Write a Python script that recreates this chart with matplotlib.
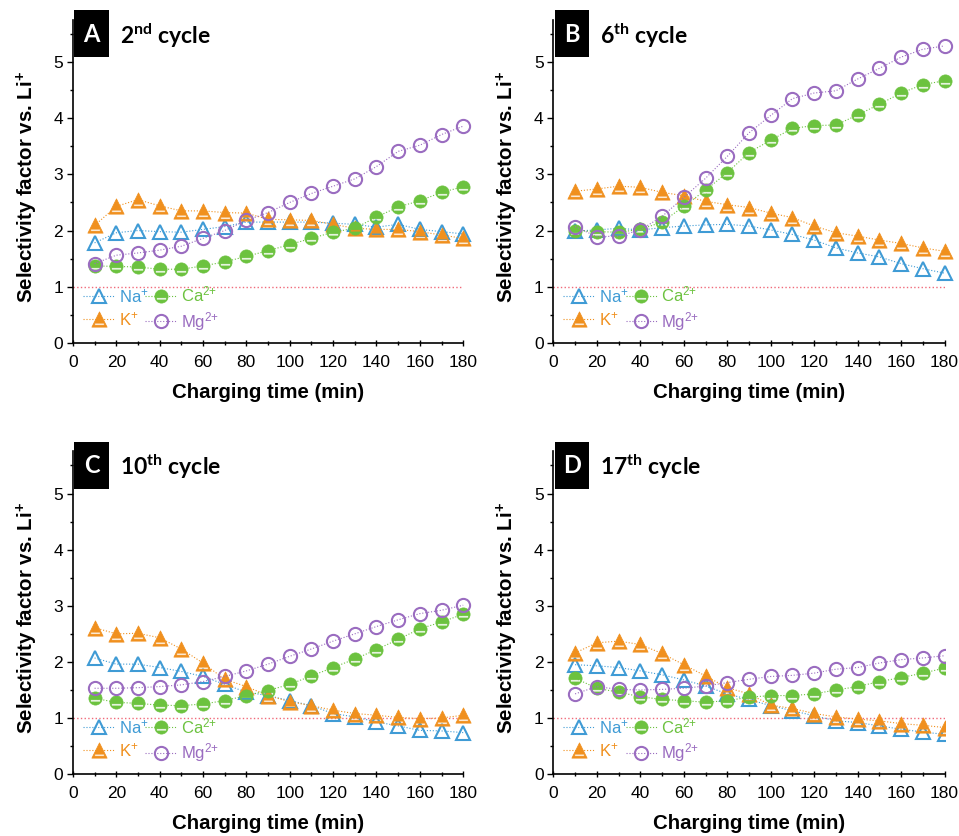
import numpy as np
import matplotlib
matplotlib.use('Agg')
import matplotlib.pyplot as plt
from matplotlib.path import Path
from matplotlib.patches import Rectangle

plt.rcParams['font.family'] = ['Liberation Sans', 'DejaVu Sans']
plt.rcParams['mathtext.fontset'] = 'custom'
plt.rcParams['mathtext.rm'] = 'Liberation Sans'
plt.rcParams['mathtext.bf'] = 'Lato:bold'
plt.rcParams['mathtext.default'] = 'regular'

# charging time (min)
time = [10, 20, 30, 40, 50, 60, 70, 80, 90, 100, 110, 120, 130, 140, 150, 160, 170, 180]

# panel A, 2nd cycle
na_a = [1.78, 1.96, 2.00, 1.98, 1.97, 2.02, 2.07, 2.15, 2.15, 2.15, 2.15, 2.13, 2.11, 2.06, 2.11, 2.02, 1.98, 1.94]
k_a = [2.09, 2.43, 2.55, 2.44, 2.35, 2.35, 2.32, 2.31, 2.20, 2.19, 2.18, 2.11, 2.04, 2.02, 2.02, 1.98, 1.92, 1.86]
ca_a = [1.37, 1.36, 1.35, 1.31, 1.31, 1.37, 1.44, 1.54, 1.64, 1.75, 1.86, 1.97, 2.04, 2.24, 2.42, 2.53, 2.68, 2.78]
mg_a = [1.41, 1.56, 1.60, 1.65, 1.72, 1.86, 2.00, 2.18, 2.32, 2.50, 2.66, 2.79, 2.92, 3.14, 3.41, 3.52, 3.71, 3.86]

# panel B, 6th cycle
na_b = [1.99, 2.01, 2.04, 2.01, 2.05, 2.08, 2.10, 2.11, 2.08, 2.01, 1.93, 1.83, 1.69, 1.60, 1.53, 1.41, 1.32, 1.24]
k_b = [2.70, 2.74, 2.79, 2.77, 2.68, 2.62, 2.52, 2.46, 2.41, 2.31, 2.23, 2.08, 1.96, 1.90, 1.83, 1.77, 1.69, 1.63]
ca_b = [2.00, 1.98, 1.97, 2.02, 2.15, 2.43, 2.72, 3.03, 3.39, 3.61, 3.82, 3.87, 3.88, 4.06, 4.25, 4.45, 4.60, 4.67]
mg_b = [2.07, 1.89, 1.90, 2.01, 2.25, 2.59, 2.93, 3.32, 3.74, 4.05, 4.35, 4.45, 4.49, 4.70, 4.89, 5.09, 5.23, 5.29]

# panel C, 10th cycle
na_c = [2.07, 1.96, 1.96, 1.90, 1.83, 1.74, 1.60, 1.46, 1.40, 1.31, 1.22, 1.08, 1.02, 0.93, 0.86, 0.78, 0.77, 0.74]
k_c = [2.61, 2.50, 2.51, 2.43, 2.23, 1.98, 1.69, 1.56, 1.40, 1.29, 1.22, 1.14, 1.08, 1.05, 1.01, 0.99, 1.00, 1.05]
ca_c = [1.35, 1.28, 1.26, 1.23, 1.22, 1.25, 1.31, 1.40, 1.49, 1.60, 1.75, 1.90, 2.05, 2.22, 2.40, 2.59, 2.71, 2.85]
mg_c = [1.53, 1.53, 1.54, 1.56, 1.59, 1.65, 1.74, 1.84, 1.96, 2.10, 2.23, 2.37, 2.50, 2.63, 2.75, 2.86, 2.92, 3.01]

# panel D, 17th cycle
na_d = [1.95, 1.93, 1.90, 1.84, 1.77, 1.68, 1.57, 1.43, 1.33, 1.22, 1.13, 1.04, 0.95, 0.92, 0.86, 0.80, 0.75, 0.71]
k_d = [2.16, 2.34, 2.37, 2.31, 2.15, 1.95, 1.75, 1.54, 1.43, 1.23, 1.17, 1.08, 1.02, 0.98, 0.95, 0.90, 0.87, 0.83]
ca_d = [1.71, 1.53, 1.46, 1.38, 1.33, 1.31, 1.28, 1.31, 1.37, 1.40, 1.40, 1.43, 1.50, 1.56, 1.65, 1.72, 1.80, 1.89]
mg_d = [1.43, 1.56, 1.51, 1.50, 1.51, 1.53, 1.57, 1.63, 1.69, 1.74, 1.76, 1.80, 1.87, 1.90, 1.98, 2.04, 2.07, 2.11]

letters = ['A', 'B', 'C', 'D']
cycles = ['2$^{\\mathbf{nd}}$ cycle', '6$^{\\mathbf{th}}$ cycle',
          '10$^{\\mathbf{th}}$ cycle', '17$^{\\mathbf{th}}$ cycle']
panels = [(na_a, k_a, ca_a, mg_a), (na_b, k_b, ca_b, mg_b),
          (na_c, k_c, ca_c, mg_c), (na_d, k_d, ca_d, mg_d)]
ions = ['Na$^{+}$', 'K$^{+}$', 'Ca$^{2{+}}$', 'Mg$^{2{+}}$']
colors = ['#3f9bd5', '#f0901e', '#6cc23f', '#9a6cc0']


# markers with a white slit (half-filled look of the original)
def slit_marker(outer, y0, y1, half_w):
    hole = Path([(-half_w, y1), (half_w, y1), (half_w, y0), (-half_w, y0), (-half_w, y1)],
                [Path.MOVETO, Path.LINETO, Path.LINETO, Path.LINETO, Path.CLOSEPOLY])
    return Path.make_compound_path(outer, hole)


tri = Path([(-1, -1), (1, -1), (0, 1), (-1, -1)],
           [Path.MOVETO, Path.LINETO, Path.LINETO, Path.CLOSEPOLY])
k_marker = slit_marker(tri, -0.74, -0.48, 0.62)
ca_marker = slit_marker(Path.unit_circle(), -0.52, -0.2, 0.74)

positions = [[0.076, 0.590, 0.407, 0.386], [0.577, 0.590, 0.408, 0.386],
             [0.076, 0.074, 0.407, 0.386], [0.577, 0.074, 0.408, 0.386]]

fig = plt.figure(figsize=(9.59, 8.36), dpi=100)

for i in range(4):
    ax = fig.add_axes(positions[i])
    na, k, ca, mg = panels[i]
    clip = (i == 3)
    ax.plot([0, 180], [1, 1], ls=':', color='#f06a7a', lw=1)
    ax.plot(time, na, ls=':', lw=0.8, color=colors[0], marker='^', ms=10,
            mfc='none', mec=colors[0], mew=1.5, label=ions[0], clip_on=clip)
    ax.plot(time, k, ls=':', lw=0.8, color=colors[1], marker=k_marker, ms=11,
            mfc=colors[1], mec=colors[1], mew=0.5, label=ions[1], clip_on=clip)
    ax.plot(time, ca, ls=':', lw=0.8, color=colors[2], marker=ca_marker, ms=9.5,
            mfc=colors[2], mec=colors[2], mew=0.5, label=ions[2], clip_on=clip)
    ax.plot(time, mg, ls=':', lw=0.8, color=colors[3], marker='o', ms=9.5,
            mfc='none', mec=colors[3], mew=1.5, label=ions[3], clip_on=clip)

    ax.set_xlim(0, 180)
    ax.set_ylim(0, 5.75)
    ax.set_xticks(np.arange(0, 181, 20))
    ax.set_xticks(np.arange(10, 180, 20), minor=True)
    ax.set_yticks(np.arange(0, 6, 1))
    ax.set_yticks(np.arange(0.5, 5.6, 1), minor=True)
    ax.tick_params(axis='both', which='major', labelsize=12.5, length=4, width=1)
    ax.tick_params(axis='both', which='minor', length=2.5, width=1)
    ax.tick_params(axis='x', which='both', direction='inout', pad=6.5)
    ax.tick_params(axis='y', which='both', pad=3)
    for s in ['top', 'right']:
        ax.spines[s].set_visible(False)
    for s in ['left', 'bottom']:
        ax.spines[s].set_linewidth(1.2)

    ax.set_xlabel('Charging time (min)', fontsize=14.7, fontweight='bold', labelpad=9.5)
    ax.set_ylabel('Selectivity factor vs. Li$^{+}$', fontsize=14.8, fontweight='bold')
    ax.yaxis.set_label_coords(-0.085, 0.484)

    ax.add_patch(Rectangle((0.004, 0.885), 0.088, 0.145, transform=ax.transAxes,
                           facecolor='black', clip_on=False, zorder=5))
    ax.text(0.048, 0.955, letters[i], transform=ax.transAxes, color='white',
            fontsize=17, fontweight='bold', family='Lato', ha='center', va='center', zorder=6)
    ax.text(0.12, 0.952, cycles[i], transform=ax.transAxes, fontsize=16.5,
            fontweight='bold', family='Lato', ha='left', va='center')

    leg = ax.legend(ncol=2, loc='lower left', bbox_to_anchor=(0.0, 0.0), frameon=False,
                    fontsize=12, handlelength=1.9, handletextpad=0.25, columnspacing=-0.2,
                    labelspacing=0.3, borderaxespad=0.2)
    for t, c in zip(leg.get_texts(), colors):
        t.set_color(c)

fig.savefig('out.png', dpi=100)
